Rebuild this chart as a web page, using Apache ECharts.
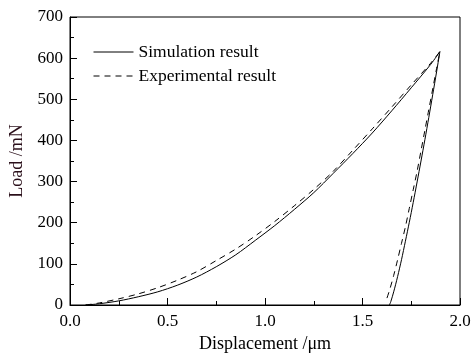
<!DOCTYPE html>
<html><head><meta charset="utf-8">
<script src="https://cdn.jsdelivr.net/npm/echarts@6/dist/echarts.min.js"></script>
<style>html,body{margin:0;padding:0;background:#fff}#c{width:475px;height:363px}</style>
</head><body><div id="c"></div>
<script>
var seriesNames = ["Simulation result", "Experimental result"];
var xTicks = ["0.0","0.5","1.0","1.5","2.0"];
var yTicks = ["0","100","200","300","400","500","600","700"];
// Simulation: loading then unloading (displacement µm, load mN)
var simX = [0.08,0.15,0.25,0.35,0.45,0.55,0.65,0.75,0.85,0.95,1.05,1.15,1.25,1.35,1.45,1.55,1.65,1.75,1.85,1.897,
            1.88,1.86,1.84,1.82,1.80,1.78,1.76,1.74,1.72,1.70,1.68,1.66,1.645,1.638];
var simY = [0,3,10,20,32,48,68,93,122,157,193,232,273,320,368,418,472,528,585,616,
            567,511,456,402,350,299,249,201,155,110,69,32,8,0];
// Experimental
var expX = [0.08,0.15,0.25,0.35,0.45,0.55,0.65,0.75,0.85,0.95,1.05,1.15,1.25,1.35,1.45,1.55,1.65,1.75,1.85,1.897,
            1.88,1.86,1.84,1.82,1.80,1.78,1.76,1.74,1.72,1.70,1.68,1.66,1.64,1.622];
var expY = [0,5,15,27,42,60,81,108,136,168,203,241,281,325,376,428,481,535,588,616,
            575,525,475,425,375,325,280,235,190,150,110,72,38,12];

function pairs(xs, ys){ return xs.map(function(x,i){ return [x, ys[i]]; }); }
var font = "'Liberation Serif', 'Times New Roman', serif";
var chart = echarts.init(document.getElementById('c'));
chart.setOption({
  animation:false,
  backgroundColor:'#fff',
  grid:{left:70,right:15,top:17,bottom:58,show:true,borderColor:'#000',borderWidth:1},
  legend:{
    orient:'vertical', left:88, top:38, itemWidth:40, itemHeight:10, itemGap:6,
    itemStyle:{color:'transparent',borderColor:'transparent',borderWidth:0},
    lineStyle:{width:1,color:'#000'},
    textStyle:{fontFamily:font,fontSize:17.5,color:'#000'},
    data:[{name:seriesNames[0]},{name:seriesNames[1]}]
  },
  xAxis:{
    type:'value', min:0, max:2, interval:0.5,
    name:'Displacement /\u03bcm', nameLocation:'middle', nameGap:30,
    nameTextStyle:{fontFamily:font,fontSize:18,color:'#000'},
    axisLine:{lineStyle:{color:'#000',width:1}},
    axisTick:{inside:true,length:7,lineStyle:{color:'#000'}},
    minorTick:{show:true,splitNumber:2,length:4,lineStyle:{color:'#000'}},
    splitLine:{show:false},
    axisLabel:{fontFamily:font,fontSize:17,color:'#000',margin:8,
      formatter:function(v){ var i = Math.round(v/0.5); return xTicks[i]; }}
  },
  yAxis:{
    type:'value', min:0, max:700, interval:100,
    name:'Load /mN', nameLocation:'middle', nameGap:39, nameRotate:90,
    nameTextStyle:{fontFamily:font,fontSize:18,color:'#2a0f1a'},
    axisLine:{lineStyle:{color:'#000',width:1}},
    axisTick:{inside:true,length:7,lineStyle:{color:'#000'}},
    minorTick:{show:true,splitNumber:2,length:4,lineStyle:{color:'#000'}},
    splitLine:{show:false},
    axisLabel:{fontFamily:font,fontSize:17,color:'#000',margin:7,
      formatter:function(v){ return yTicks[Math.round(v/100)]; }}
  },
  series:[
    {name:seriesNames[0],type:'line',data:pairs(simX,simY),showSymbol:false,symbol:'none',smooth:0.3,
     lineStyle:{color:'#000',width:1,type:'solid'},itemStyle:{color:'#000'}},
    {name:seriesNames[1],type:'line',data:pairs(expX,expY),showSymbol:false,symbol:'none',smooth:0.3,
     lineStyle:{color:'#000',width:1,type:[6,5]},itemStyle:{color:'#000'}}
  ]
});
</script></body></html>
